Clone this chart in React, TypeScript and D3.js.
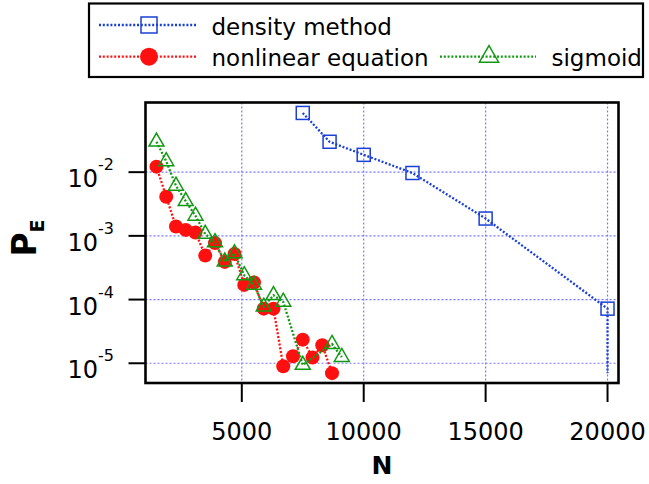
import React from "react";
import * as d3 from "d3";

// error probability P_E against N, three methods
const densityN = [7500, 8600, 10000, 12000, 15000, 20000, 20000];
const densityP = [0.085, 0.03, 0.0187, 0.0097, 0.00187, 7.2e-5, 0];

const nonlinearN = [1500, 1900, 2300, 2700, 3100, 3500, 3900, 4300, 4700, 5100, 5500, 5900, 6300, 6700, 7100, 7500, 7900, 8300, 8700];
const nonlinearP = [0.0122, 0.0041, 0.0014, 0.00124, 0.00113, 4.9e-4, 7.7e-4, 3.9e-4, 5.2e-4, 1.7e-4, 1.85e-4, 7.2e-5, 7.2e-5, 9e-6, 1.29e-5, 2.35e-5, 1.23e-5, 1.92e-5, 7e-6];

const sigmoidN = [1500, 1900, 2300, 2700, 3100, 3500, 3900, 4300, 4700, 5100, 5500, 5900, 6300, 6700, 7500, 8700, 9100];
const sigmoidP = [0.03, 0.0148, 0.0061, 0.0035, 0.00206, 0.00107, 7.9e-4, 3.95e-4, 5.3e-4, 2.4e-4, 1.7e-4, 7.7e-5, 1.17e-4, 9.2e-5, 9.4e-6, 2.0e-5, 1.25e-5];

const xTicks = [5000, 10000, 15000, 20000];
const yTickExponents = [-2, -3, -4, -5];
const legendLabels = ["density method", "nonlinear equation", "sigmoid"];

const xDomain = [1050, 20450];
const yDomain = [4.9e-6, 0.124];
const zeroFloor = 7e-6; // where a zero value is drawn on the log axis

const W = 649;
const H = 484;
const m = { left: 145.5, right: 618.5, top: 102.5, bottom: 383 };

const BLUE = "#1a3fd6";
const RED = "#ff1010";
const GREEN = "#129912";
const GRID = "#7878ff";
const FONT = "DejaVu Sans, Verdana, sans-serif";
const DOTS = "2 1.8";

export default function App() {
  const x = d3.scaleLinear().domain(xDomain).range([m.left, m.right]);
  const y = d3.scaleLog().domain(yDomain).range([m.bottom, m.top]);

  const line = d3
    .line<[number, number]>()
    .x((d) => x(d[0]))
    .y((d) => y(d[1] > 0 ? d[1] : zeroFloor));

  const zip = (a: number[], b: number[]) => a.map((v, i) => [v, b[i]] as [number, number]);
  const density = zip(densityN, densityP);
  const nonlinear = zip(nonlinearN, nonlinearP);
  const sigmoid = zip(sigmoidN, sigmoidP);

  const tri = d3.symbol(d3.symbolTriangle, 97)()!;
  const triBig = d3.symbol(d3.symbolTriangle, 160)()!;

  const rowY = [25, 56.7];

  return (
    <svg width={W} height={H} style={{ position: "absolute", left: 0, top: 0 }} fontFamily={FONT}>
      <defs>
        <clipPath id="plot">
          <rect x={m.left} y={m.top} width={m.right - m.left} height={m.bottom - m.top} />
        </clipPath>
      </defs>

      {/* legend */}
      <rect x={89} y={3.5} width={554} height={73.5} fill="white" stroke="black" strokeWidth={2.2} />
      <line x1={99} x2={197} y1={rowY[0]} y2={rowY[0]} stroke={BLUE} strokeWidth={2.3} strokeDasharray={DOTS} />
      <rect x={149 - 8} y={rowY[0] - 8} width={16} height={16} fill="none" stroke={BLUE} strokeWidth={1.5} />
      <text x={211.5} y={rowY[0] + 9.5} fontSize={23}>{legendLabels[0]}</text>

      <line x1={99} x2={197} y1={rowY[1]} y2={rowY[1]} stroke={RED} strokeWidth={2.3} strokeDasharray={DOTS} />
      <circle cx={149} cy={rowY[1]} r={9} fill={RED} />
      <text x={211.5} y={rowY[1] + 9.5} fontSize={23}>{legendLabels[1]}</text>

      <line x1={440} x2={536} y1={rowY[1]} y2={rowY[1]} stroke={GREEN} strokeWidth={2.3} strokeDasharray={DOTS} />
      <path d={triBig} transform={`translate(489,${rowY[1]})`} fill="none" stroke={GREEN} strokeWidth={1.5} />
      <text x={551.5} y={rowY[1] + 9.5} fontSize={23}>{legendLabels[2]}</text>

      {/* grid */}
      {xTicks.map((t) => (
        <line key={"gx" + t} x1={x(t)} x2={x(t)} y1={m.top} y2={m.bottom} stroke={GRID} strokeWidth={1.2} strokeDasharray="2 2" />
      ))}
      {yTickExponents.map((e) => (
        <line key={"gy" + e} x1={m.left} x2={m.right} y1={y(Math.pow(10, e))} y2={y(Math.pow(10, e))} stroke={GRID} strokeWidth={1.2} strokeDasharray="2 2" />
      ))}

      <g clipPath="url(#plot)">
        <path d={line(density)!} fill="none" stroke={BLUE} strokeWidth={2.3} strokeDasharray={DOTS} />
        {density.filter((d) => d[1] > 0).map((d, i) => (
          <rect key={"sq" + i} x={x(d[0]) - 6.5} y={y(d[1]) - 6.5} width={13} height={13} fill="none" stroke={BLUE} strokeWidth={1.5} />
        ))}

        <path d={line(nonlinear)!} fill="none" stroke={RED} strokeWidth={2.3} strokeDasharray={DOTS} />
        {nonlinear.map((d, i) => (
          <circle key={"c" + i} cx={x(d[0])} cy={y(d[1])} r={7} fill={RED} />
        ))}

        <path d={line(sigmoid)!} fill="none" stroke={GREEN} strokeWidth={2.3} strokeDasharray={DOTS} />
        {sigmoid.map((d, i) => (
          <path key={"t" + i} d={tri} transform={`translate(${x(d[0])},${y(d[1])})`} fill="none" stroke={GREEN} strokeWidth={1.5} />
        ))}
      </g>

      {/* frame */}
      <rect x={m.left} y={m.top} width={m.right - m.left} height={m.bottom - m.top} fill="none" stroke="black" strokeWidth={2.6} />

      {/* x axis */}
      {xTicks.map((t) => (
        <g key={"xt" + t}>
          <line x1={x(t)} x2={x(t)} y1={m.bottom} y2={m.bottom + 19} stroke="black" strokeWidth={2} />
          <text x={x(t)} y={440} fontSize={24} textAnchor="middle">{t}</text>
        </g>
      ))}
      <text x={(m.left + m.right) / 2} y={474} fontSize={25} fontWeight="bold" textAnchor="middle">N</text>

      {/* y axis */}
      {yTickExponents.map((e) => {
        const yy = y(Math.pow(10, e));
        return (
          <g key={"yt" + e}>
            <line x1={m.left - 17} x2={m.left} y1={yy} y2={yy} stroke="black" strokeWidth={2} />
            <text x={114} y={yy + 15} fontSize={24} textAnchor="end">
              10<tspan fontSize={16} dy={-17}>{e}</tspan>
            </text>
          </g>
        );
      })}
      <text transform="translate(36,238) rotate(-90)" fontSize={33} fontWeight="bold" textAnchor="middle">
        P<tspan fontSize={19} dy={8}>E</tspan>
      </text>
    </svg>
  );
}
